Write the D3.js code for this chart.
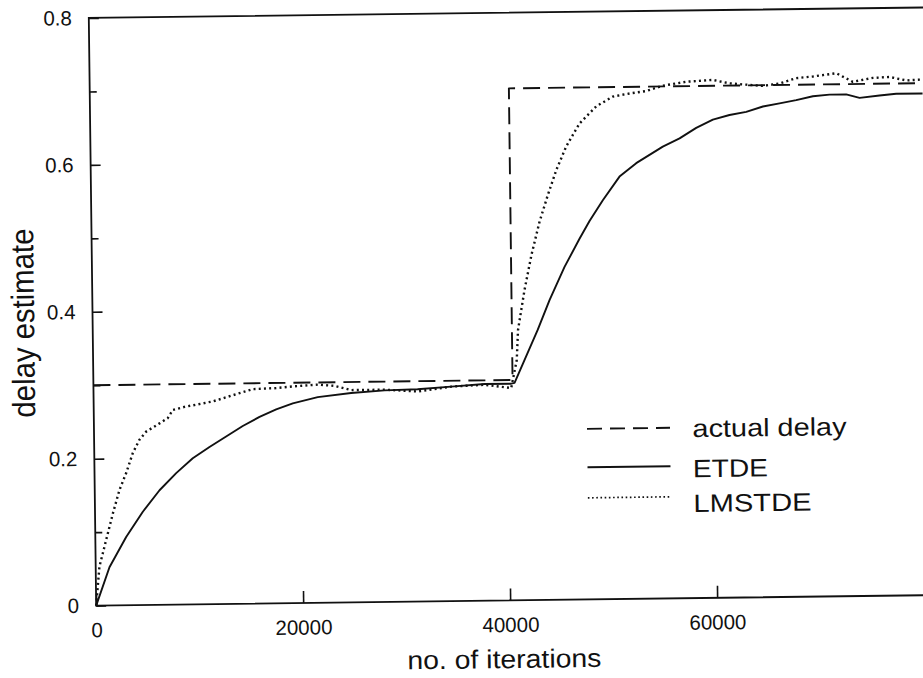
<!DOCTYPE html>
<html><head><meta charset="utf-8">
<script src="https://cdn.jsdelivr.net/npm/d3@7"></script>
<style>
body{margin:0;background:#fff}
svg{display:block}
text{font-family:"Liberation Sans",Arial,Helvetica,sans-serif;fill:#111}
</style>
</head><body>
<svg id="chart" width="923" height="678"></svg>
<script>
// ---------- data ----------
const seriesNames = ["actual delay", "ETDE", "LMSTDE"];
const actualIter  = [0, 40500, 40500, 82000];
const actualDelay = [0.3, 0.3, 0.697, 0.697];

const etdeIter = [0,1330,2980,4620,6260,7890,9510,11140,12760,14380,
  16010,17630,19240,21660,24890,28120,31310,34570,37790,40370,
  40690,43000,44170,45660,47140,48130,49440,51080,52710,55300,
  56930,58550,60170,61780,63400,65020,66630,68240,69860,71470,
  73080,74370,76300,77910,80460];
const etdeValue = [0,0.052,0.093,0.127,0.156,0.179,0.199,0.214,0.228,0.242,
  0.254,0.264,0.272,0.280,0.285,0.288,0.289,0.292,0.295,0.295,
  0.296,0.368,0.408,0.453,0.491,0.515,0.543,0.575,0.593,0.615,
  0.626,0.640,0.651,0.657,0.661,0.668,0.672,0.676,0.681,0.683,
  0.683,0.678,0.681,0.683,0.683];

const lmsIter = [0,360,1040,1720,2390,3060,3720,4380,5040,6340,
  7140,7640,8770,9580,11510,13450,15390,17650,19260,21680,
  23290,24900,28120,31330,34570,37780,40360,40930,41090,41760,
  42480,43300,44130,44980,45970,47280,48920,50530,52150,53760,
  55370,57640,60210,61820,63430,65040,66650,68270,69890,72150,
  73740,75670,77290,78900,80480];
const lmsValue = [0,0.053,0.089,0.125,0.157,0.180,0.207,0.225,0.236,0.247,
  0.254,0.265,0.269,0.271,0.276,0.284,0.292,0.293,0.295,0.297,
  0.295,0.289,0.289,0.286,0.292,0.294,0.289,0.327,0.368,0.422,
  0.470,0.515,0.551,0.585,0.617,0.648,0.671,0.684,0.688,0.691,
  0.698,0.703,0.705,0.700,0.698,0.696,0.699,0.706,0.708,0.712,
  0.700,0.705,0.706,0.701,0.702];

const xTicks = [0, 20000, 40000, 60000];
const yTicks = [0, 0.2, 0.4, 0.6, 0.8];
const yMinorTicks = [0.1, 0.3, 0.5, 0.7];
const xTitle = "no. of iterations";
const yTitle = "delay estimate";

// ---------- layout ----------
const W = 923, H = 678;
const xMax = 82000;
const pLeft = 92.5, pRight = 92.5 + xMax / 96.62, pTop = 12.7, pBottom = 600.4;
const ink = "#111";

const svg = d3.select("#chart");
svg.append("rect").attr("width", W).attr("height", H).attr("fill", "#fff");
// the scanned figure is slightly rotated
const g = svg.append("g").attr("transform", "rotate(-0.72,510,310)");

const x = d3.scaleLinear().domain([0, xMax]).range([pLeft, pRight]);
const y = d3.scaleLinear().domain([0, 0.8]).range([pBottom, pTop]);

// frame
g.append("rect").attr("x", pLeft).attr("y", pTop)
  .attr("width", pRight - pLeft).attr("height", pBottom - pTop)
  .attr("fill", "none").attr("stroke", ink).attr("stroke-width", 1.8);

// axes
const yAxis = d3.axisLeft(y).tickValues(yTicks).tickSize(-10).tickPadding(17)
  .tickFormat(d => d === 0 ? "0" : d3.format(".1f")(d));
const yAx = g.append("g").attr("transform", `translate(${pLeft},0)`).call(yAxis);
const yMinor = d3.axisLeft(y).tickValues(yMinorTicks).tickSize(-7).tickFormat("");
const yAx2 = g.append("g").attr("transform", `translate(${pLeft},0)`).call(yMinor);
const xAxis = d3.axisBottom(x).tickValues(xTicks).tickSize(-12).tickPadding(17)
  .tickFormat(d3.format("d"));
const xAx = g.append("g").attr("transform", `translate(0,${pBottom})`).call(xAxis);
[yAx, yAx2, xAx].forEach(a => {
  a.select(".domain").remove();
  a.selectAll(".tick line").attr("stroke", ink).attr("stroke-width", 1.6);
  a.selectAll(".tick text").attr("font-size", 20.5).attr("fill", ink)
    .style("font-family", '"Liberation Sans",Arial,sans-serif');
});

// titles
g.append("text").attr("x", 500).attr("y", 668).attr("text-anchor", "middle")
  .attr("font-size", 26).attr("textLength", 194).attr("lengthAdjust", "spacingAndGlyphs")
  .text(xTitle);
g.append("text").attr("transform", "translate(34,317) rotate(-90)")
  .attr("text-anchor", "middle").attr("font-size", 32)
  .attr("textLength", 189).attr("lengthAdjust", "spacingAndGlyphs")
  .text(yTitle);

// series
const line = d3.line().x(d => x(d[0])).y(d => y(d[1]));
const styles = [
  {dash: "17,8", width: 1.9, legDash: "15,8", legWidth: 1.9},
  {dash: null, width: 1.9, legDash: null, legWidth: 1.9},
  {dash: "2,3.2", width: 2.4, legDash: "1.6,2.6", legWidth: 1.7}
];
const data = [
  d3.zip(actualIter, actualDelay),
  d3.zip(etdeIter, etdeValue),
  d3.zip(lmsIter, lmsValue)
];
data.forEach((d, i) => {
  g.append("path").datum(d).attr("d", line)
    .attr("fill", "none").attr("stroke", ink)
    .attr("stroke-width", styles[i].width)
    .attr("stroke-dasharray", styles[i].dash)
    .attr("stroke-linejoin", "round");
});

// legend
const legY = [429.8, 468.2, 498.8];
const legTextY = [439.3, 479.6, 514.3];
const legLen = [154, 75, 118];
seriesNames.forEach((name, i) => {
  g.append("line").attr("x1", 585.5).attr("x2", 668.5)
    .attr("y1", legY[i]).attr("y2", legY[i])
    .attr("stroke", ink).attr("stroke-width", styles[i].legWidth)
    .attr("stroke-dasharray", styles[i].legDash);
  g.append("text").attr("x", 691).attr("y", legTextY[i])
    .attr("font-size", 25).attr("textLength", legLen[i])
    .attr("lengthAdjust", "spacingAndGlyphs").text(name);
});
</script>
</body></html>
